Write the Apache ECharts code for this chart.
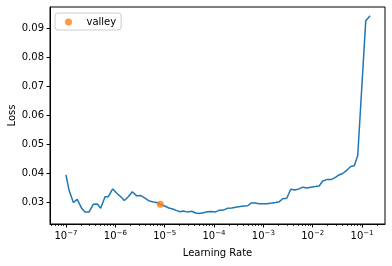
<!DOCTYPE html>
<html><head><meta charset="utf-8">
<script src="https://cdn.jsdelivr.net/npm/echarts@6/dist/echarts.min.js"></script>
<style>html,body{margin:0;padding:0;background:#fff}#c{width:392px;height:266px}</style>
</head><body><div id="c"></div>
<script>
const learningRates = [1.0e-7, 1.15e-7, 1.41e-7, 1.69e-7, 2.08e-7, 2.43e-7, 2.92e-7, 3.57e-7, 4.31e-7, 5.05e-7, 6.18e-7, 7.20e-7, 8.84e-7,
  1.07e-6, 1.29e-6, 1.52e-6, 1.83e-6, 2.21e-6, 2.71e-6, 3.27e-6, 3.99e-6, 4.88e-6, 5.89e-6, 6.90e-6, 8.17e-6,
  1.02e-5, 1.22e-5, 1.50e-5, 1.75e-5, 2.05e-5, 2.39e-5, 2.88e-5, 3.53e-5, 4.26e-5, 5.04e-5, 6.07e-5, 7.31e-5, 8.99e-5,
  1.05e-4, 1.26e-4, 1.55e-4, 1.86e-4, 2.29e-4, 2.75e-4, 3.37e-4, 4.06e-4, 4.82e-4, 5.62e-4, 6.78e-4, 8.17e-4,
  1.00e-3, 1.21e-3, 1.48e-3, 1.78e-3, 2.11e-3, 2.47e-3, 2.98e-3, 3.59e-3, 4.39e-3, 5.28e-3, 6.28e-3, 7.57e-3, 9.12e-3,
  1.12e-2, 1.35e-2, 1.60e-2, 1.93e-2, 2.36e-2, 2.84e-2, 3.42e-2, 4.06e-2, 4.90e-2, 5.90e-2, 6.98e-2, 8.18e-2,
  0.119, 0.146];
const losses = [0.0394, 0.0342, 0.0299, 0.0310, 0.0279, 0.0266, 0.0266, 0.0293, 0.0294, 0.0279, 0.0319, 0.0319, 0.0346,
  0.0331, 0.0319, 0.0306, 0.0319, 0.0336, 0.0322, 0.0323, 0.0314, 0.0304, 0.0301, 0.0299, 0.0293,
  0.0286, 0.0280, 0.0276, 0.0271, 0.0267, 0.0270, 0.0266, 0.0269, 0.0263, 0.0261, 0.0264, 0.0267, 0.0268,
  0.0266, 0.0272, 0.0273, 0.0279, 0.0280, 0.0283, 0.0285, 0.0287, 0.0288, 0.0297, 0.0297, 0.0295,
  0.0295, 0.0295, 0.0297, 0.0299, 0.0302, 0.0312, 0.0314, 0.0345, 0.0342, 0.0346, 0.0352, 0.0349, 0.0352,
  0.0354, 0.0356, 0.0373, 0.0378, 0.0378, 0.0385, 0.0394, 0.0399, 0.0410, 0.0423, 0.0426, 0.0461,
  0.0926, 0.0943];
const valleyLr = [8.17e-6];
const valleyLoss = [0.0293];
const xTickExponents = [-7, -6, -5, -4, -3, -2, -1];
const yTickValues = [0.03, 0.04, 0.05, 0.06, 0.07, 0.08, 0.09];
const xRange = [4.74e-8, 0.292];
const yRange = [0.0225, 0.0973];

const FONT = 'DejaVu Sans';
const xMin = Math.log10(xRange[0]), xMax = Math.log10(xRange[1]);
const minorTicks = [];
for (let n = -8; n <= 0; n++) {
  for (let k = 2; k <= 9; k++) {
    const v = n + Math.log10(k);
    if (v >= xMin && v <= xMax) minorTicks.push(v);
  }
}
const lineData = learningRates.map((lr, i) => [Math.log10(lr), losses[i]]);
const valleyData = valleyLr.map((lr, i) => [Math.log10(lr), valleyLoss[i]]);

const chart = echarts.init(document.getElementById('c'), null, {renderer: 'canvas'});
chart.setOption({
  animation: false,
  backgroundColor: '#fff',
  grid: {left: 50, right: 7, top: 7, bottom: 42, containLabel: false, outerBoundsMode: 'none',
    show: true, borderColor: '#000', borderWidth: 1, backgroundColor: 'transparent'},
  legend: {
    data: [{name: 'valley', icon: 'circle'}],
    left: 55, top: 13, orient: 'vertical',
    itemWidth: 26, itemHeight: 7,
    padding: [4, 5, 3, 10],
    backgroundColor: 'rgba(255,255,255,0.8)',
    borderColor: '#cccccc', borderWidth: 1, borderRadius: 3,
    textStyle: {fontFamily: FONT, fontSize: 10, color: '#000'}
  },
  xAxis: [{
    type: 'value', min: xMin, max: xMax,
    name: 'Learning Rate', nameLocation: 'middle', nameGap: 24, nameMoveOverlap: false,
    nameTextStyle: {fontFamily: FONT, fontSize: 10, color: '#000'},
    splitLine: {show: false},
    axisLine: {show: true, onZero: false, lineStyle: {color: '#000', width: 1}},
    axisTick: {show: true, inside: false, length: 3.5, lineStyle: {color: '#000', width: 1}, customValues: xTickExponents},
    axisLabel: {
      margin: 6, customValues: xTickExponents,
      formatter: v => '{b|10}{s|\u2212' + Math.abs(Math.round(v)) + '}',
      rich: {
        b: {fontFamily: FONT, fontSize: 10, color: '#000', lineHeight: 13},
        s: {fontFamily: FONT, fontSize: 7, color: '#000', verticalAlign: 'top', lineHeight: 7}
      }
    }
  }, {
    type: 'value', min: xMin, max: xMax, position: 'bottom',
    splitLine: {show: false},
    axisLine: {show: false},
    axisLabel: {show: false},
    axisTick: {show: true, inside: false, length: 2, lineStyle: {color: '#000', width: 0.8}, customValues: minorTicks}
  }],
  yAxis: {
    type: 'value', min: yRange[0], max: yRange[1],
    name: 'Loss', nameLocation: 'middle', nameGap: 33, nameRotate: 90, nameMoveOverlap: false,
    nameTextStyle: {fontFamily: FONT, fontSize: 10, color: '#000'},
    splitLine: {show: false},
    axisLine: {show: true, lineStyle: {color: '#000', width: 1}},
    axisTick: {show: true, inside: false, length: 3.5, lineStyle: {color: '#000', width: 1}, customValues: yTickValues},
    axisLabel: {margin: 6, customValues: yTickValues, fontFamily: FONT, fontSize: 10, color: '#000', formatter: v => v.toFixed(2)}
  },
  series: [{
    type: 'line', name: 'loss', data: lineData, xAxisIndex: 0,
    showSymbol: false, symbol: 'none',
    lineStyle: {color: '#1f77b4', width: 1.5}, z: 2
  }, {
    type: 'scatter', name: 'valley', data: valleyData, xAxisIndex: 0,
    symbol: 'circle', symbolSize: 7,
    itemStyle: {color: '#ff7f0e'}, z: 3
  }]
});
</script></body></html>
